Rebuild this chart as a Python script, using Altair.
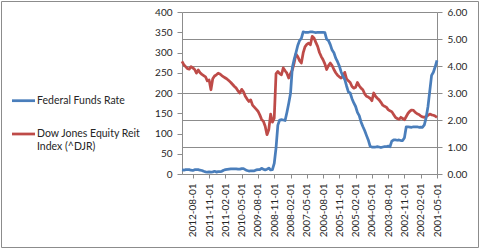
import altair as alt
import pandas as pd

# Monthly categories, 2001-05 .. 2013-02 (shown newest on the left)
months = pd.date_range("2001-05-01", "2013-02-01", freq="MS").strftime("%Y-%m-%d").tolist()

# Federal Funds Rate (%), chronological
fed_funds = [
    4.21, 3.97, 3.77, 3.65, 3.07, 2.49, 2.09, 1.82,
    1.73, 1.74, 1.73, 1.75, 1.75, 1.75, 1.73, 1.74, 1.75, 1.75, 1.34, 1.24,
    1.24, 1.26, 1.25, 1.26, 1.26, 1.22, 1.01, 1.03, 1.01, 1.01, 1.00, 0.98,
    1.00, 1.01, 1.00, 1.00, 1.00, 1.03, 1.26, 1.43, 1.61, 1.76, 1.93, 2.16,
    2.28, 2.50, 2.63, 2.79, 3.00, 3.04, 3.26, 3.50, 3.62, 3.78, 4.00, 4.16,
    4.29, 4.49, 4.59, 4.79, 4.94, 4.99, 5.24, 5.25, 5.25, 5.25, 5.25, 5.24,
    5.25, 5.26, 5.26, 5.25, 5.25, 5.25, 5.26, 5.02, 4.94, 4.76, 4.49, 4.24,
    3.94, 2.98, 2.61, 2.28, 1.98, 2.00, 2.01, 2.00, 1.81, 0.97, 0.39, 0.16,
    0.15, 0.22, 0.18, 0.15, 0.18, 0.21, 0.16, 0.16, 0.15, 0.12, 0.12, 0.12,
    0.11, 0.13, 0.16, 0.20, 0.20, 0.18, 0.18, 0.19, 0.19, 0.19, 0.19, 0.18,
    0.17, 0.16, 0.14, 0.10, 0.09, 0.09, 0.07, 0.10, 0.08, 0.07, 0.08, 0.07,
    0.08, 0.10, 0.13, 0.14, 0.16, 0.16, 0.16, 0.13, 0.14, 0.16, 0.16, 0.16,
    0.14, 0.15,
]

# Dow Jones Equity REIT Index (^DJR), chronological
djr = [
    140, 143, 145, 146, 148, 145, 142, 140, 141, 143,
    147, 149, 152, 157, 158, 155, 150, 142, 134, 137,
    140, 135, 137, 140, 147, 154, 156, 159, 165, 167,
    170, 177, 183, 187, 192, 200, 181, 187, 190, 192,
    198, 208, 212, 218, 226, 214, 212, 216, 226, 230,
    235, 251, 241, 237, 240, 244, 250, 258, 268, 274,
    268, 258, 272, 282, 290, 300, 315, 325, 336, 340,
    319, 323, 320, 314, 299, 274, 280, 290, 296, 274,
    257, 248, 237, 249, 255, 262, 245, 248, 253, 248,
    138, 128, 148, 110, 97, 118, 130, 135, 146, 155,
    160, 165, 170, 183, 179, 185, 192, 203, 209, 200,
    205, 212, 216, 221, 226, 230, 234, 237, 240, 243,
    247, 249, 245, 242, 235, 208, 232, 230, 240, 243,
    246, 250, 257, 249, 258, 262, 265, 259, 260, 265,
    270, 278,
]

tick_labels = [
    "2012-08-01", "2011-11-01", "2011-02-01", "2010-05-01", "2009-08-01",
    "2008-11-01", "2008-02-01", "2007-05-01", "2006-08-01", "2005-11-01",
    "2005-02-01", "2004-05-01", "2003-08-01", "2002-11-01", "2002-02-01",
    "2001-05-01",
]
left_ticks = [0, 50, 100, 150, 200, 250, 300, 350, 400]
right_ticks = [0, 1, 2, 3, 4, 5, 6]

series_names = ["Federal Funds Rate", "Dow Jones Equity Reit", "Index (^DJR)"]

df = pd.DataFrame({"month": months, "fed": fed_funds, "djr": djr})
order = months[::-1]

FONT = "Lato"
TXT = "#262626"
GRAY = "#8c8c8c"
BLUE = "#4A7EBB"
RED = "#BE4B48"

x_enc = alt.X(
    "month:O",
    sort=order,
    scale=alt.Scale(type="point", padding=0),
    axis=alt.Axis(
        values=tick_labels, labelAngle=270, title=None, tickSize=4, labelPadding=5,
        domainColor=GRAY, tickColor=GRAY, labelColor=TXT, labelFont=FONT,
        labelFontSize=10, grid=False, labelOverlap=False,
    ),
)

base = alt.Chart(df)

red_line = base.mark_line(color=RED, strokeWidth=2.75, strokeJoin="round").encode(
    x=x_enc,
    y=alt.Y(
        "djr:Q",
        scale=alt.Scale(domain=[0, 400], nice=False),
        axis=alt.Axis(
            orient="left", values=left_ticks, title=None, grid=False, tickSize=5,
            labelPadding=5, domainColor=GRAY, tickColor=GRAY, labelColor=TXT,
            labelFont=FONT, labelFontSize=10,
        ),
    ),
)

blue_line = base.mark_line(color=BLUE, strokeWidth=2.75, strokeJoin="round").encode(
    x=x_enc,
    y=alt.Y(
        "fed:Q",
        scale=alt.Scale(domain=[0, 6], nice=False),
        axis=alt.Axis(
            orient="right", values=right_ticks, format=".2f", title=None, grid=True,
            gridColor=GRAY, gridWidth=1, tickSize=5, labelPadding=5,
            domainColor=GRAY, tickColor=GRAY, labelColor=TXT, labelFont=FONT,
            labelFontSize=10,
        ),
    ),
)

one = alt.Data(values=[{"k": 1}])

frame = alt.Chart(one).mark_rect(fillOpacity=0, stroke=GRAY, strokeWidth=1).encode(
    x=alt.value(-180.5), x2=alt.value(296.5), y=alt.value(-10.5), y2=alt.value(235.5)
)

leg_fed_line = alt.Chart(one).mark_rule(color=BLUE, strokeWidth=2.75).encode(
    x=alt.value(-170), x2=alt.value(-147), y=alt.value(88.7)
)
leg_fed_text = alt.Chart(one).mark_text(
    text=series_names[0], align="left", baseline="middle", font=FONT, fontSize=10.5, color=TXT
).encode(x=alt.value(-145), y=alt.value(88.7))

leg_djr_line = alt.Chart(one).mark_rule(color=RED, strokeWidth=2.75).encode(
    x=alt.value(-170), x2=alt.value(-147), y=alt.value(122)
)
leg_djr_text1 = alt.Chart(one).mark_text(
    text=series_names[1], align="left", baseline="middle", font=FONT, fontSize=10.5, color=TXT
).encode(x=alt.value(-145), y=alt.value(122))
leg_djr_text2 = alt.Chart(one).mark_text(
    text=series_names[2], align="left", baseline="middle", font=FONT, fontSize=10.5, color=TXT
).encode(x=alt.value(-145), y=alt.value(134.7))

chart = (
    alt.layer(
        red_line, blue_line, frame,
        leg_fed_line, leg_fed_text, leg_djr_line, leg_djr_text1, leg_djr_text2,
    )
    .resolve_scale(y="independent")
    .properties(
        width=255, height=162,
        padding={"left": 182, "top": 12, "right": 43, "bottom": 75},
        autosize=alt.AutoSizeParams(type="none"),
        background="white",
    )
    .configure_view(strokeWidth=0)
)

chart.save("out.html", embed_options={"renderer": "svg", "actions": False})
